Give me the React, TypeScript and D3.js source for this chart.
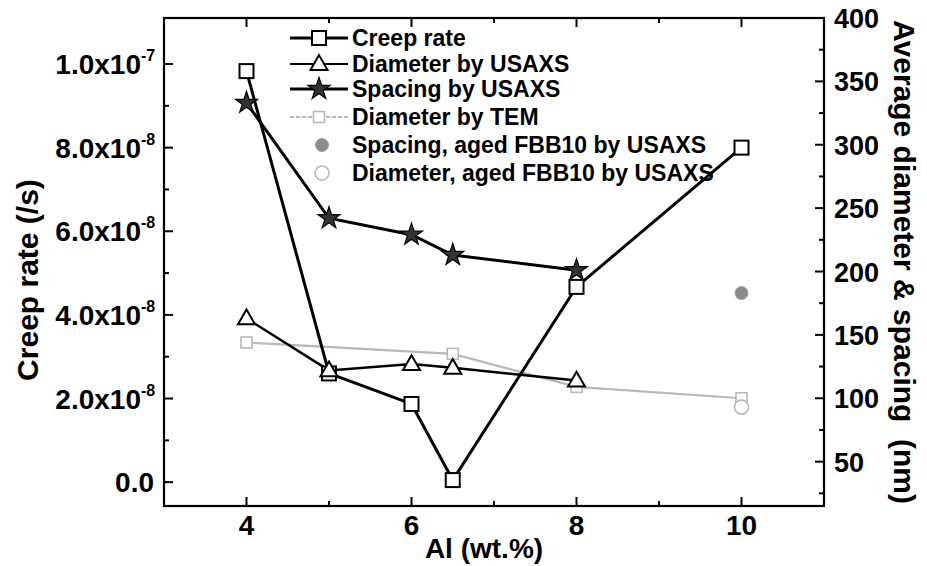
import React from "react";
import * as d3 from "d3";

const W = 927;
const H = 566;

// ---- data ----
const alCreep = [4, 5, 6, 6.5, 8, 10];
const creepRate = [9.83e-8, 2.6e-8, 1.87e-8, 0.05e-8, 4.67e-8, 8.0e-8];
const alUSAXS = [4, 5, 6, 6.5, 8];
const spacingUSAXS = [333, 242, 229, 213, 201];
const diameterUSAXS = [163, 122, 127, 124, 114];
const alTEM = [4, 6.5, 8, 10];
const diameterTEM = [144, 135, 109, 100];
const alAged = [10];
const spacingAged = [183];
const diameterAged = [93];

const xTicks = [4, 6, 8, 10];
const xMinor = [5, 7, 9];
const leftTicks = [0, 2e-8, 4e-8, 6e-8, 8e-8, 1e-7];
const leftMinor = [1e-8, 3e-8, 5e-8, 7e-8, 9e-8];
const leftMantissa = ["0.0", "2.0x10", "4.0x10", "6.0x10", "8.0x10", "1.0x10"];
const leftExponent = ["", "-8", "-8", "-8", "-8", "-7"];
const rightTicks = [50, 100, 150, 200, 250, 300, 350, 400];
const rightMinor = [25, 75, 125, 175, 225, 275, 325, 375];
const legendLabels = [
  "Creep rate",
  "Diameter by USAXS",
  "Spacing by USAXS",
  "Diameter by TEM",
  "Spacing, aged FBB10 by USAXS",
  "Diameter, aged FBB10 by USAXS",
];

const FONT = "'Liberation Sans', Arial, Helvetica, sans-serif";

const L = 164, R = 824, T = 18, B = 506;

const x = d3.scaleLinear().domain([3, 11]).range([L, R]);
const yL = d3.scaleLinear().domain([-0.57e-8, 1.11e-7]).range([B, T]);
const yR = d3.scaleLinear().domain([15, 400]).range([B, T]);

const GRAY = "#b8b8b8";

function Square({ cx, cy, s = 13, stroke = "#000", sw = 2 }: any) {
  return <rect x={cx - s / 2} y={cy - s / 2} width={s} height={s} fill="#fff" stroke={stroke} strokeWidth={sw} />;
}
function Triangle({ cx, cy, s = 16, stroke = "#000", sw = 2 }: any) {
  const h = s * 0.87;
  const d = `M${cx},${cy - h * 0.6} L${cx + s / 2},${cy + h * 0.4} L${cx - s / 2},${cy + h * 0.4} Z`;
  return <path d={d} fill="#fff" stroke={stroke} strokeWidth={sw} />;
}
const starPath = d3.symbol(d3.symbolStar, 150)() as string;
function Star({ cx, cy }: any) {
  return <path d={starPath} transform={`translate(${cx},${cy})`} fill="#333" stroke="#000" strokeWidth={1.2} />;
}

export default function App() {
  const lineL = d3.line<[number, number]>().x((d) => x(d[0])).y((d) => yL(d[1]));
  const lineR = d3.line<[number, number]>().x((d) => x(d[0])).y((d) => yR(d[1]));

  const creepPts = alCreep.map((a, i) => [a, creepRate[i]] as [number, number]);
  const spacingPts = alUSAXS.map((a, i) => [a, spacingUSAXS[i]] as [number, number]);
  const diamPts = alUSAXS.map((a, i) => [a, diameterUSAXS[i]] as [number, number]);
  const temPts = alTEM.map((a, i) => [a, diameterTEM[i]] as [number, number]);

  const legX0 = 290, legX1 = 348, legSym = 319, legText = 352;
  const legY = [38, 64, 89, 117, 145, 173];

  return (
    <svg width={W} height={H} style={{ position: "absolute", left: 0, top: 0, background: "#fff" }} fontFamily={FONT} fontWeight="bold">
      <rect x={0} y={0} width={W} height={H} fill="#fff" />

      {/* TEM line */}
      <path d={lineR(temPts) as string} fill="none" stroke={GRAY} strokeWidth={2.2} />
      {/* Diameter USAXS */}
      <path d={lineR(diamPts) as string} fill="none" stroke="#000" strokeWidth={2.5} />
      {/* Spacing USAXS */}
      <path d={lineR(spacingPts) as string} fill="none" stroke="#000" strokeWidth={3} />
      {/* Creep */}
      <path d={lineL(creepPts) as string} fill="none" stroke="#000" strokeWidth={3} />

      {temPts.map((d, i) => (
        <Square key={"tem" + i} cx={x(d[0])} cy={yR(d[1])} s={11} stroke={GRAY} sw={1.6} />
      ))}
      {creepPts.map((d, i) => (
        <Square key={"c" + i} cx={x(d[0])} cy={yL(d[1])} s={14} />
      ))}
      {diamPts.map((d, i) => (
        <Triangle key={"t" + i} cx={x(d[0])} cy={yR(d[1])} s={17} />
      ))}
      {spacingPts.map((d, i) => (
        <Star key={"s" + i} cx={x(d[0])} cy={yR(d[1])} />
      ))}
      {alAged.map((a, i) => (
        <circle key={"as" + i} cx={x(a)} cy={yR(spacingAged[i])} r={6.5} fill="#8c8c8c" stroke="#a0a0a0" strokeWidth={1} />
      ))}
      {alAged.map((a, i) => (
        <circle key={"ad" + i} cx={x(a)} cy={yR(diameterAged[i])} r={7} fill="#fff" stroke={GRAY} strokeWidth={1.6} />
      ))}

      {/* frame */}
      <rect x={L} y={T} width={R - L} height={B - T} fill="none" stroke="#000" strokeWidth={2.2} />

      {/* x ticks bottom & top */}
      {xTicks.map((t) => (
        <g key={"xt" + t}>
          <line x1={x(t)} x2={x(t)} y1={B} y2={B - 9} stroke="#000" strokeWidth={2} />
          <line x1={x(t)} x2={x(t)} y1={T} y2={T + 9} stroke="#000" strokeWidth={2} />
          <text x={x(t)} y={535} textAnchor="middle" fontSize={28}>{t}</text>
        </g>
      ))}
      {xMinor.map((t) => (
        <g key={"xm" + t}>
          <line x1={x(t)} x2={x(t)} y1={B} y2={B - 5} stroke="#000" strokeWidth={2} />
          <line x1={x(t)} x2={x(t)} y1={T} y2={T + 5} stroke="#000" strokeWidth={2} />
        </g>
      ))}

      {/* left ticks */}
      {leftTicks.map((t, i) => (
        <g key={"lt" + i}>
          <line x1={L} x2={L + 9} y1={yL(t)} y2={yL(t)} stroke="#000" strokeWidth={2} />
          <text x={leftExponent[i] ? 141 : 154} y={yL(t) + 10} textAnchor="end" fontSize={28}>
            {leftMantissa[i]}
          </text>
          {leftExponent[i] && (
            <text x={141} y={yL(t) - 3} textAnchor="start" fontSize={16}>{leftExponent[i]}</text>
          )}
        </g>
      ))}
      {leftMinor.map((t, i) => (
        <line key={"lm" + i} x1={L} x2={L + 5} y1={yL(t)} y2={yL(t)} stroke="#000" strokeWidth={2} />
      ))}

      {/* right ticks */}
      {rightTicks.map((t) => (
        <g key={"rt" + t}>
          <line x1={R} x2={R - 9} y1={yR(t)} y2={yR(t)} stroke="#000" strokeWidth={2} />
          <text x={834} y={yR(t) + 10} textAnchor="start" fontSize={27}>{t}</text>
        </g>
      ))}
      {rightMinor.map((t) => (
        <line key={"rm" + t} x1={R} x2={R - 5} y1={yR(t)} y2={yR(t)} stroke="#000" strokeWidth={2} />
      ))}

      {/* axis titles */}
      <text x={484} y={558} textAnchor="middle" fontSize={28}>Al (wt.%)</text>
      <text transform={`translate(38,280) rotate(-90)`} textAnchor="middle" fontSize={30}>Creep rate (/s)</text>
      <text transform={`translate(894,262) rotate(90)`} textAnchor="middle" fontSize={30} xmlSpace="preserve">Average diameter &amp; spacing  (nm)</text>

      {/* legend */}
      <g>
        <line x1={legX0} x2={legX1} y1={legY[0]} y2={legY[0]} stroke="#000" strokeWidth={3} />
        <Square cx={legSym} cy={legY[0]} s={14} />
        <line x1={legX0} x2={legX1} y1={legY[1]} y2={legY[1]} stroke="#000" strokeWidth={2} />
        <Triangle cx={legSym} cy={legY[1]} s={17} />
        <line x1={legX0} x2={legX1} y1={legY[2]} y2={legY[2]} stroke="#000" strokeWidth={3} />
        <Star cx={legSym} cy={legY[2]} />
        <line x1={legX0} x2={legX1} y1={legY[3]} y2={legY[3]} stroke={GRAY} strokeWidth={2} strokeDasharray="4 2" />
        <Square cx={legSym} cy={legY[3]} s={11} stroke={GRAY} sw={1.6} />
        <circle cx={legSym + 3} cy={legY[4]} r={6.5} fill="#8c8c8c" stroke="#a0a0a0" strokeWidth={1} />
        <circle cx={legSym + 3} cy={legY[5]} r={7} fill="#fff" stroke={GRAY} strokeWidth={1.6} />
        {legendLabels.map((s, i) => (
          <text key={"lg" + i} x={legText} y={legY[i] + 8} fontSize={23}>{s}</text>
        ))}
      </g>
    </svg>
  );
}
